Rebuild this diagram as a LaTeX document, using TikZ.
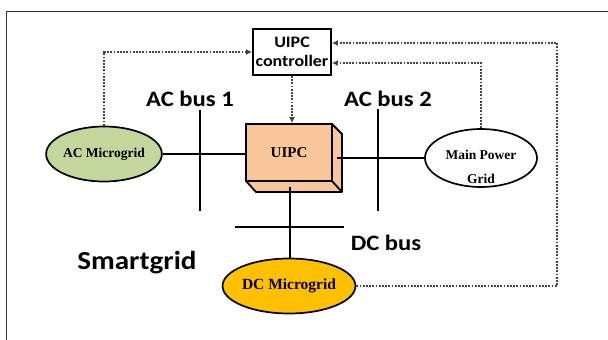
\documentclass[tikz,border=0pt]{standalone}
\usepackage{fontspec}
\setmainfont{Liberation Serif}
\newfontfamily\labfont[FakeStretch=1.12]{Carlito}
\usetikzlibrary{arrows.meta,shapes.geometric,calc}
\definecolor{acgreen}{HTML}{C3D69B}
\definecolor{peach}{HTML}{F9C59A}
\definecolor{gold}{HTML}{FFC000}
\definecolor{dotgray}{HTML}{444444}
\definecolor{framegray}{HTML}{333333}
\begin{document}
\begin{tikzpicture}[x=1pt,y=-1pt,
  wire/.style={line width=2pt,black},
  sig/.style={line width=2pt,dotgray,dash pattern=on 1.8pt off 1.4pt},
  sigarrow/.style={sig,-{Latex[length=6pt,width=6pt]}},
  grid/.style={ellipse,draw,line width=1.7pt,inner sep=0pt,font=\bfseries},
  buslabel/.style={font=\labfont\bfseries\fontsize{22}{24}\selectfont,inner sep=0pt}]
\useasboundingbox (0,0) rectangle (608,340);
% frame
\draw[line width=1.6pt,framegray] (6.5,345) -- (6.5,11.5) -- (612,11.5);
% controller
\node[draw,line width=1.8pt,fill=white,minimum width=78pt,minimum height=46pt,inner sep=0pt,align=center,
      font=\labfont\bfseries\fontsize{16}{19}\selectfont] (ctrl) at (292,52) {UIPC\\controller};
% UIPC 3D box
\fill[peach,draw=black,line width=1.8pt,line join=round] (332,124) -- (342,134) -- (342,192) -- (256,192) -- (246,181) -- (332,181) -- cycle;
\draw[line width=1.8pt] (332,181) -- (342,192);
\node[draw,line width=1.8pt,fill=peach,minimum width=86pt,minimum height=57pt,inner sep=0pt,
      font=\bfseries\fontsize{15}{18}\selectfont] (uipc) at (289,152.5) {UIPC};
% grids
\node[grid,fill=acgreen,minimum width=114pt,minimum height=55pt,font=\bfseries\fontsize{13.5}{16}\selectfont] (acmg) at (104,154) {AC Microgrid};
\node[grid,fill=white,minimum width=112pt,minimum height=58pt] (mpg) at (481,158) {};
\node[align=center,inner sep=0pt,font=\bfseries\fontsize{13.5}{24}\selectfont] (mpgtxt) at (481,167) {Main Power\\Grid};
\node[grid,fill=gold,minimum width=115pt,minimum height=55pt,font=\bfseries\fontsize{15.5}{18}\selectfont] (dcmg) at (289,286) {DC Microgrid};
% buses
\coordinate (b1t) at (200,110); \coordinate (b1b) at (200,211);
\coordinate (b2t) at (378,109); \coordinate (b2b) at (378,211);
\coordinate (dcl) at (235,227); \coordinate (dcr) at (344,227);
\draw[wire] (b1t) -- (b1b);
\draw[wire] (b2t) -- (b2b);
\draw[wire] (dcl) -- (dcr);
% power connections
\draw[wire] (acmg.east) -- (uipc.west |- acmg.east);
\coordinate (uipcr) at (337,158);
\draw[wire] (uipcr) -- (mpg.west);
\coordinate (uipcb) at (290,187);
\draw[wire] (uipcb) -- (uipcb |- dcmg.north);
% signal connections
\draw[sigarrow] (acmg.north) -- (acmg.north |- ctrl.west) -- (ctrl.west);
\draw[sigarrow] (ctrl.south) -- (ctrl.south |- uipc.north);
\coordinate (cin1) at ($(ctrl.east)+(0,-9)$);
\coordinate (cin2) at ($(ctrl.east)+(0,11)$);
\draw[sigarrow] (mpg.north) -- (mpg.north |- cin2) -- (cin2);
\draw[sigarrow] (dcmg.east) -- (557,286) -- (557,43) -- (cin1);
% labels
\node[buslabel] (lab1) at (190,99) {AC bus 1};
\node[buslabel] (lab2) at (388,99) {AC bus 2};
\node[buslabel] (lab3) at (386,243) {DC bus};
\node[font=\labfont\bfseries\fontsize{26}{30}\selectfont,inner sep=0pt] (smart) at (137,263) {Smartgrid};
\end{tikzpicture}
\end{document}
